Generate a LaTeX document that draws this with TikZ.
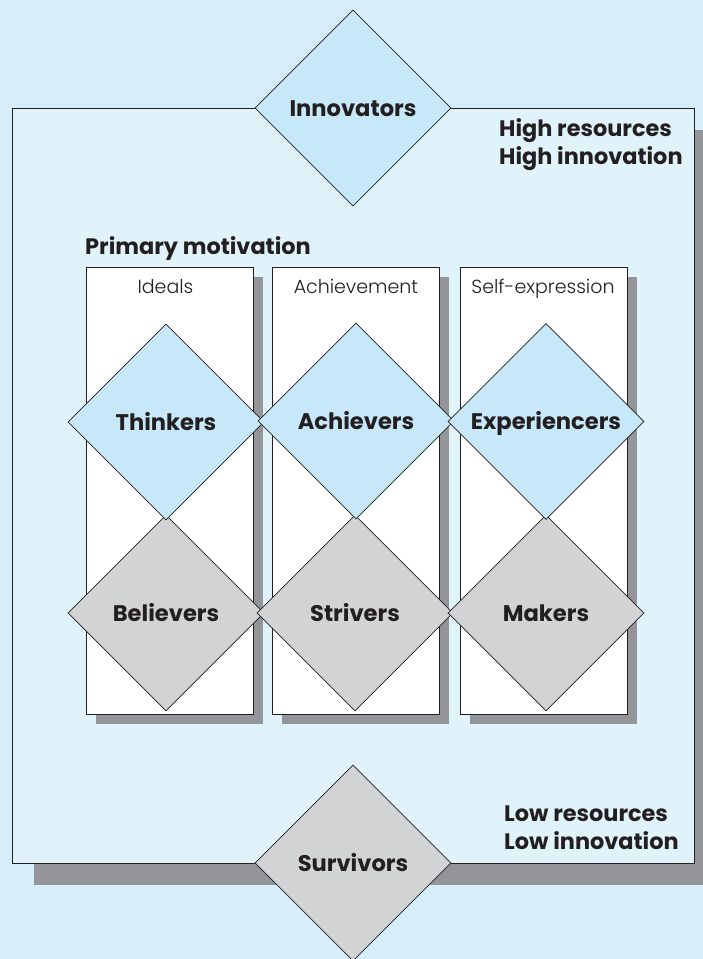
\documentclass[tikz,border=0pt]{standalone}
\usepackage{fontspec}
\setmainfont{Poppins}
\newfontfamily\lightfont{Poppins Light}
\usetikzlibrary{shapes.geometric,shadows}
\definecolor{outerbg}{HTML}{D6EDFA}
\definecolor{innerbg}{HTML}{E0F3FB}
\definecolor{bluedia}{HTML}{C6E8F8}
\definecolor{graydia}{HTML}{D1D3D4}
\definecolor{shadowgray}{HTML}{939598}
\definecolor{ink}{HTML}{231F20}
\tikzset{
  dia/.style={diamond, draw=ink, line width=0.8pt, inner sep=0pt, aspect=1,
    minimum width=196pt, minimum height=196pt, text=ink,
    text height=17pt, text depth=1pt,
    font=\fontsize{22.6}{24}\selectfont\bfseries},
  bluedia/.style={dia, fill=bluedia},
  graydia/.style={dia, fill=graydia},
  column/.style={rectangle, draw=ink, line width=0.8pt, fill=white,
    minimum width=167pt, minimum height=447pt, inner sep=0pt,
    drop shadow={shadow xshift=10pt, shadow yshift=-10pt, fill=shadowgray, opacity=1}},
  bigbox/.style={rectangle, draw=ink, line width=0.8pt, fill=innerbg,
    minimum width=682pt, minimum height=755pt, inner sep=0pt,
    drop shadow={shadow xshift=22pt, shadow yshift=-22pt, fill=shadowgray, opacity=1}},
  colhead/.style={anchor=base, text=ink, inner sep=0pt, font=\lightfont\fontsize{19}{20}\selectfont},
  corner/.style={anchor=base west, text=ink, inner sep=0pt, align=left,
    font=\fontsize{22.4}{28.5}\selectfont\bfseries},
}
\begin{document}
\begin{tikzpicture}[x=1pt,y=-1pt]
\fill[outerbg] (0,0) rectangle (703,959);
\useasboundingbox (0,0) rectangle (703,959);
\begin{scope}
\clip (0,0) rectangle (703,959);
\node[bigbox] (box) at (353,485.5) {};
\end{scope}
\node[column] (col1) at (169.5,490.5) {};
\node[column] (col2) at (355.5,490.5) {};
\node[column] (col3) at (543.5,490.5) {};
\node[colhead] (h1) at (165.5,293.5) {Ideals};
\node[colhead] (h2) at (356,293.5) {Achievement};
\node[colhead] (h3) at (543,293.5) {Self-expression};
\node[corner] (pm) at (85,254) {Primary motivation};
\node[corner] (hi) at (499,164.5) {High resources\\High innovation};
\node[corner] (lo) at (504,849.5) {Low resources\\Low innovation};
\node[graydia] (believers) at (166,613) {Believers};
\node[graydia] (strivers) at (355,613) {Strivers};
\node[graydia] (makers) at (546,613) {Makers};
\node[bluedia] (thinkers) at (166,422) {Thinkers};
\node[bluedia] (achievers) at (356,421) {Achievers};
\node[bluedia] (experiencers) at (546,421.5) {Experiencers};
\node[bluedia] (innovators) at (353,108) {Innovators};
\node[graydia] (survivors) at (353,863) {Survivors};
\end{tikzpicture}
\end{document}
